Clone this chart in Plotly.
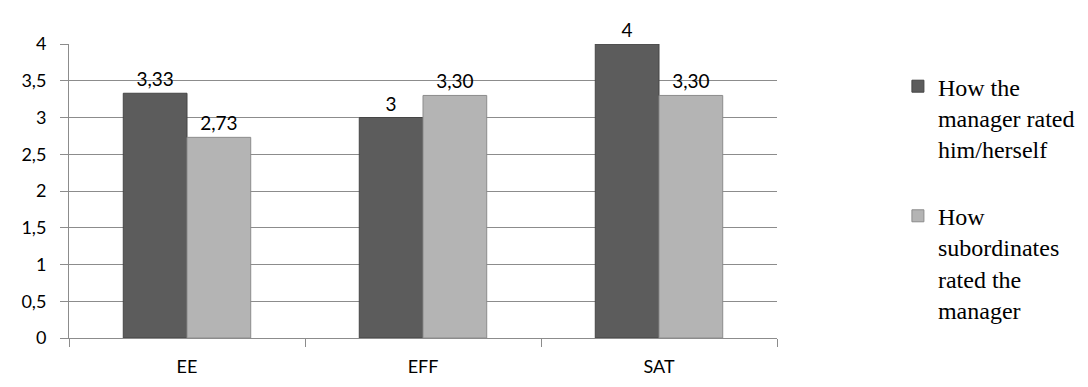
import plotly.graph_objects as go

categories = ["EE", "EFF", "SAT"]
manager_self = [3.33, 3.0, 4.0]
subordinates = [2.73, 3.30, 3.30]
manager_labels = ["3,33", "3", "4"]
subordinate_labels = ["2,73", "3,30", "3,30"]
y_ticks = [0, 0.5, 1, 1.5, 2, 2.5, 3, 3.5, 4]

SANS = "Lato, 'Open Sans', sans-serif"
SERIF = "'Liberation Serif', 'Times New Roman', serif"
TICK_FONT = dict(family=SANS, size=18, color="#000000")
LABEL_FONT = dict(family=SANS, size=19, color="#000000")

fig = go.Figure()

fig.add_trace(
    go.Bar(
        x=categories,
        y=manager_self,
        name="How the<br>manager rated<br>him/herself",
        legendgroup="self",
        text=manager_labels,
        textposition="outside",
        textfont=LABEL_FONT,
        cliponaxis=False,
        marker=dict(color="#5c5c5c", line=dict(color="#454545", width=1)),
    )
)
fig.add_trace(
    go.Bar(
        x=categories,
        y=subordinates,
        name="How<br>subordinates<br>rated the<br>manager",
        legendgroup="subs",
        text=subordinate_labels,
        textposition="outside",
        textfont=LABEL_FONT,
        cliponaxis=False,
        marker=dict(color="#b4b4b4", line=dict(color="#8c8c8c", width=1)),
    )
)

# the chart title sits above the picture; only the foot of its last letter shows
fig.add_annotation(
    text="<b>Group</b>",
    xref="paper",
    yref="paper",
    x=1.0013,
    y=1.118,
    xanchor="right",
    yanchor="bottom",
    showarrow=False,
    font=dict(family=SERIF, size=30, color="#000000"),
)

# page body has an 8px margin, so the figure is 8px smaller than the window
fig.update_layout(
    width=1080,
    height=379,
    margin=dict(l=61, r=311, t=36, b=49),
    paper_bgcolor="white",
    plot_bgcolor="white",
    separators=", ",
    barmode="group",
    bargap=0.46,
    bargroupgap=0.0,
    showlegend=True,
    legend=dict(
        xref="container",
        yref="container",
        x=0.824,
        y=0.852,
        xanchor="left",
        yanchor="top",
        valign="top",
        maxheight=400,
        font=dict(family=SERIF, size=24, color="#000000"),
        tracegroupgap=33,
        itemwidth=30,
        bgcolor="rgba(0,0,0,0)",
    ),
)

fig.update_yaxes(
    range=[0, 4],
    tickvals=y_ticks,
    automargin=False,
    showgrid=True,
    gridcolor="#8c8c8c",
    gridwidth=1,
    showline=True,
    linecolor="#8c8c8c",
    ticks="outside",
    ticklen=8,
    tickcolor="#8c8c8c",
    tickfont=TICK_FONT,
    ticklabelstandoff=10,
    zeroline=False,
)
fig.update_xaxes(
    automargin=False,
    showline=True,
    linecolor="#8c8c8c",
    ticks="outside",
    tickson="boundaries",
    ticklen=8,
    tickcolor="#8c8c8c",
    tickfont=TICK_FONT,
    ticklabelstandoff=12,
)

fig.write_html("out.html")
